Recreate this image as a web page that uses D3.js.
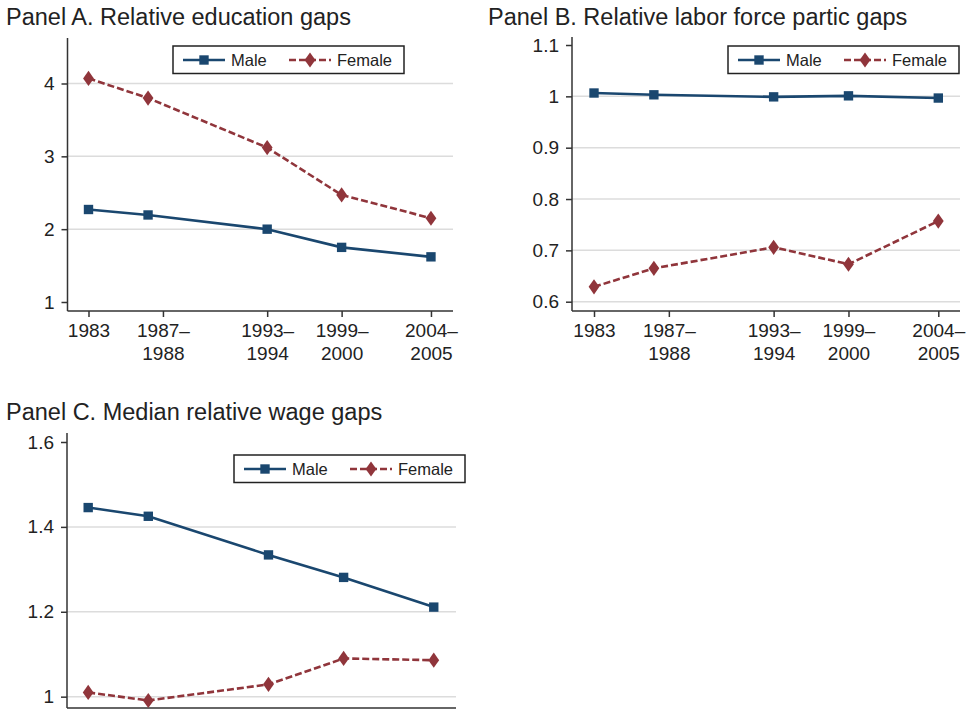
<!DOCTYPE html>
<html lang="en">
<head>
<meta charset="UTF-8">
<title>Relative gaps</title>
<script src="https://d3js.org/d3.v7.min.js"></script>
<style>
  body { margin: 0; background: #fff; }
  svg { display: block; font-family: "Liberation Sans", Arial, sans-serif; }
</style>
</head>
<body>
<svg id="chart" width="977" height="711"></svg>
<script>
// survey round positions (markers) and tick positions on the x axis
const markerPos = [38, 42, 50, 55, 61];
const tickPos = [38, 43, 50, 55, 61];
const tickLabels = [["1983"], ["1987\u2013", "1988"], ["1993\u2013", "1994"], ["1999\u2013", "2000"], ["2004\u2013", "2005"]];

// Panel A: relative education gaps
const eduMale = [2.27, 2.195, 2.0, 1.75, 1.62];
const eduFemale = [4.07, 3.80, 3.12, 2.47, 2.15];
const eduTicks = [1, 2, 3, 4];
const eduGrid = [2, 3, 4];

// Panel B: relative labor force participation gaps
const lfpMale = [1.0065, 1.003, 0.999, 1.001, 0.9967];
const lfpFemale = [0.629, 0.665, 0.706, 0.673, 0.757];
const lfpTicks = [0.6, 0.7, 0.8, 0.9, 1, 1.1];
const lfpGrid = [0.6, 0.7, 0.8, 0.9, 1];

// Panel C: median relative wage gaps
const wageMale = [1.4455, 1.425, 1.334, 1.281, 1.211];
const wageFemale = [1.010, 0.991, 1.029, 1.090, 1.086];
const wageTicks = [1, 1.2, 1.4, 1.6];
const wageGrid = [1, 1.2, 1.4];

const MALE = "#1a476f", FEMALE = "#90353b";

const panels = [
  { title: "Panel A. Relative education gaps", tx: 6, ty: 24.5,
    x: [67.5, 453], y: [311, 38], xd: [36.59, 62.48], yd: [0.8764, 4.6247],
    male: eduMale, female: eduFemale, ticks: eduTicks, grid: eduGrid,
    legend: [173, 46], showX: true },
  { title: "Panel B. Relative labor force partic gaps", tx: 488, ty: 24.5,
    x: [572, 960], y: [311, 37], xd: [36.53, 62.45], yd: [0.5819, 1.1156],
    male: lfpMale, female: lfpFemale, ticks: lfpTicks, grid: lfpGrid,
    legend: [728, 46], showX: true },
  { title: "Panel C. Median relative wage gaps", tx: 6, ty: 420,
    x: [67, 456], y: [708, 433], xd: [36.59, 62.48], yd: [0.9733, 1.6212],
    male: wageMale, female: wageFemale, ticks: wageTicks, grid: wageGrid,
    legend: [234, 455], showX: false }
];

const svg = d3.select("#chart");

const square = d3.symbol().type(d3.symbolSquare).size(88);
const diamond = "M0,-7.6L5.4,0L0,7.6L-5.4,0Z";

panels.forEach(p => {
  const g = svg.append("g");
  const x = d3.scaleLinear().domain(p.xd).range(p.x);
  const y = d3.scaleLinear().domain(p.yd).range(p.y);

  g.append("text")
    .attr("x", p.tx).attr("y", p.ty)
    .attr("font-size", 23.5).attr("fill", "#222")
    .text(p.title);

  // gridlines
  g.selectAll(".grid").data(p.grid).enter().append("line")
    .attr("x1", p.x[0]).attr("x2", p.x[1])
    .attr("y1", d => y(d)).attr("y2", d => y(d))
    .attr("stroke", "#dcdcdc").attr("stroke-width", 1.5);

  // y axis
  const yAxis = g.append("g")
    .attr("transform", `translate(${p.x[0]},0)`)
    .call(d3.axisLeft(y).tickValues(p.ticks).tickFormat(d => String(d)).tickSize(6).tickPadding(7));
  yAxis.select(".domain").attr("d", `M0,${p.y[1]}V${p.y[0]}`);

  // x axis
  const xAxis = g.append("g")
    .attr("transform", `translate(0,${p.y[0]})`)
    .call(d3.axisBottom(x).tickValues(p.showX ? tickPos : []).tickFormat("").tickSize(6));
  xAxis.select(".domain").attr("d", `M${p.x[0]},0H${p.x[1]}`);
  xAxis.selectAll(".tick").each(function(d, i) {
    const t = d3.select(this).append("text")
      .attr("fill", "#222").attr("text-anchor", "middle").attr("y", 26);
    tickLabels[i].forEach((s, k) => {
      t.append("tspan").attr("x", 0).attr("dy", k === 0 ? 0 : 23).text(s);
    });
  });

  [yAxis, xAxis].forEach(a => {
    a.selectAll(".domain, line").attr("stroke", "#333").attr("stroke-width", 1.5);
    a.selectAll("text").attr("font-size", 19).attr("fill", "#222")
      .attr("font-family", "Liberation Sans, Arial, sans-serif");
  });

  const line = d3.line().x((d, i) => x(markerPos[i])).y(d => y(d));

  g.append("path").datum(p.male).attr("d", line)
    .attr("fill", "none").attr("stroke", MALE).attr("stroke-width", 2.6);
  g.append("path").datum(p.female).attr("d", line)
    .attr("fill", "none").attr("stroke", FEMALE).attr("stroke-width", 2.6)
    .attr("stroke-dasharray", "7,3");

  g.selectAll(".m").data(p.male).enter().append("path")
    .attr("d", square)
    .attr("transform", (d, i) => `translate(${x(markerPos[i])},${y(d)})`)
    .attr("fill", MALE);
  g.selectAll(".f").data(p.female).enter().append("path")
    .attr("d", diamond)
    .attr("transform", (d, i) => `translate(${x(markerPos[i])},${y(d)})`)
    .attr("fill", FEMALE);

  // legend
  const lg = g.append("g").attr("transform", `translate(${p.legend[0]},${p.legend[1]})`);
  lg.append("rect").attr("width", 231).attr("height", 27.5)
    .attr("fill", "#fff").attr("stroke", "#222").attr("stroke-width", 1.5);
  lg.append("line").attr("x1", 10).attr("x2", 52).attr("y1", 14).attr("y2", 14)
    .attr("stroke", MALE).attr("stroke-width", 2.6);
  lg.append("path").attr("d", square).attr("transform", "translate(31,14)").attr("fill", MALE);
  lg.append("text").attr("x", 58).attr("y", 20).attr("font-size", 16.5).attr("fill", "#222").text("Male");
  lg.append("line").attr("x1", 116).attr("x2", 158).attr("y1", 14).attr("y2", 14)
    .attr("stroke", FEMALE).attr("stroke-width", 2.6).attr("stroke-dasharray", "7,3");
  lg.append("path").attr("d", diamond).attr("transform", "translate(137,14)").attr("fill", FEMALE);
  lg.append("text").attr("x", 164).attr("y", 20).attr("font-size", 16.5).attr("fill", "#222").text("Female");
});
</script>
</body>
</html>
